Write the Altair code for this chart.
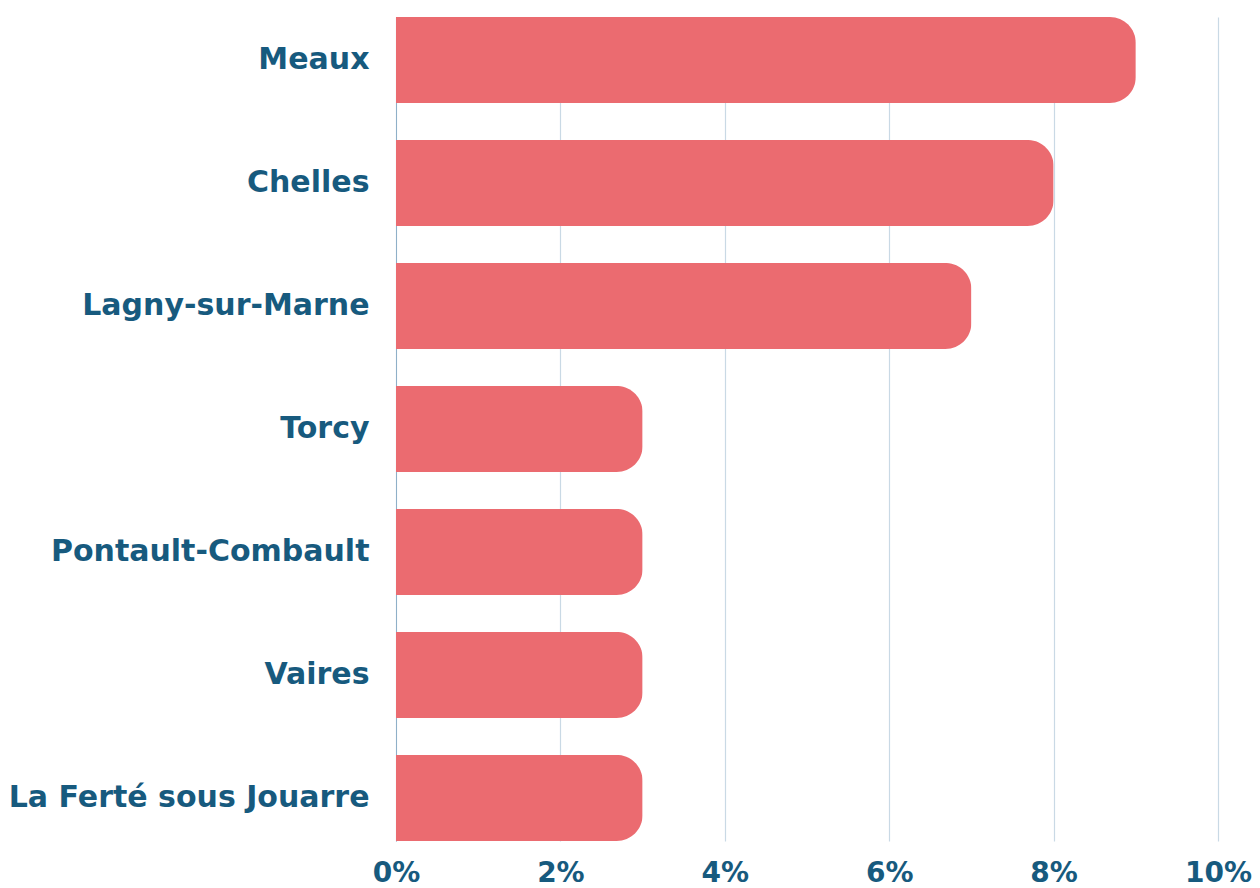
import altair as alt
import pandas as pd

villes = ["Meaux", "Chelles", "Lagny-sur-Marne", "Torcy", "Pontault-Combault", "Vaires", "La Ferté sous Jouarre"]
parts = [0.09, 0.08, 0.07, 0.03, 0.03, 0.03, 0.03]

df = pd.DataFrame({"ville": villes, "part": parts})

TXT = "#175A7E"
FONT = "DejaVu Sans"
chart = alt.Chart(df).mark_bar(color="#EB6B70", cornerRadiusEnd=26).encode(
    x=alt.X("part:Q", scale=alt.Scale(domain=[0, 0.10], nice=False),
            axis=alt.Axis(format=".0%", values=[0, 0.02, 0.04, 0.06, 0.08, 0.10], title=None,
                          grid=True, gridColor="#C9D9E5", gridWidth=1.2, domain=False, ticks=False,
                          labelFont=FONT, labelFontWeight="bold", labelFontSize=28, labelColor=TXT,
                          labelPadding=18, labelFlush=False)),
    y=alt.Y("ville:N", sort=villes,
            scale=alt.Scale(paddingInner=0.3, paddingOuter=0),
            axis=alt.Axis(title=None, domain=True, domainColor="#8FB0C8", ticks=False,
                          labelFont=FONT, labelFontWeight="bold", labelFontSize=30, labelColor=TXT,
                          labelPadding=27, labelLimit=500)),
).properties(width=822, height=824, padding={"left": 0, "top": 9, "right": 0, "bottom": 0}
).configure_view(stroke=None)

chart.save("out.html", embed_options={"renderer": "svg", "actions": False})
